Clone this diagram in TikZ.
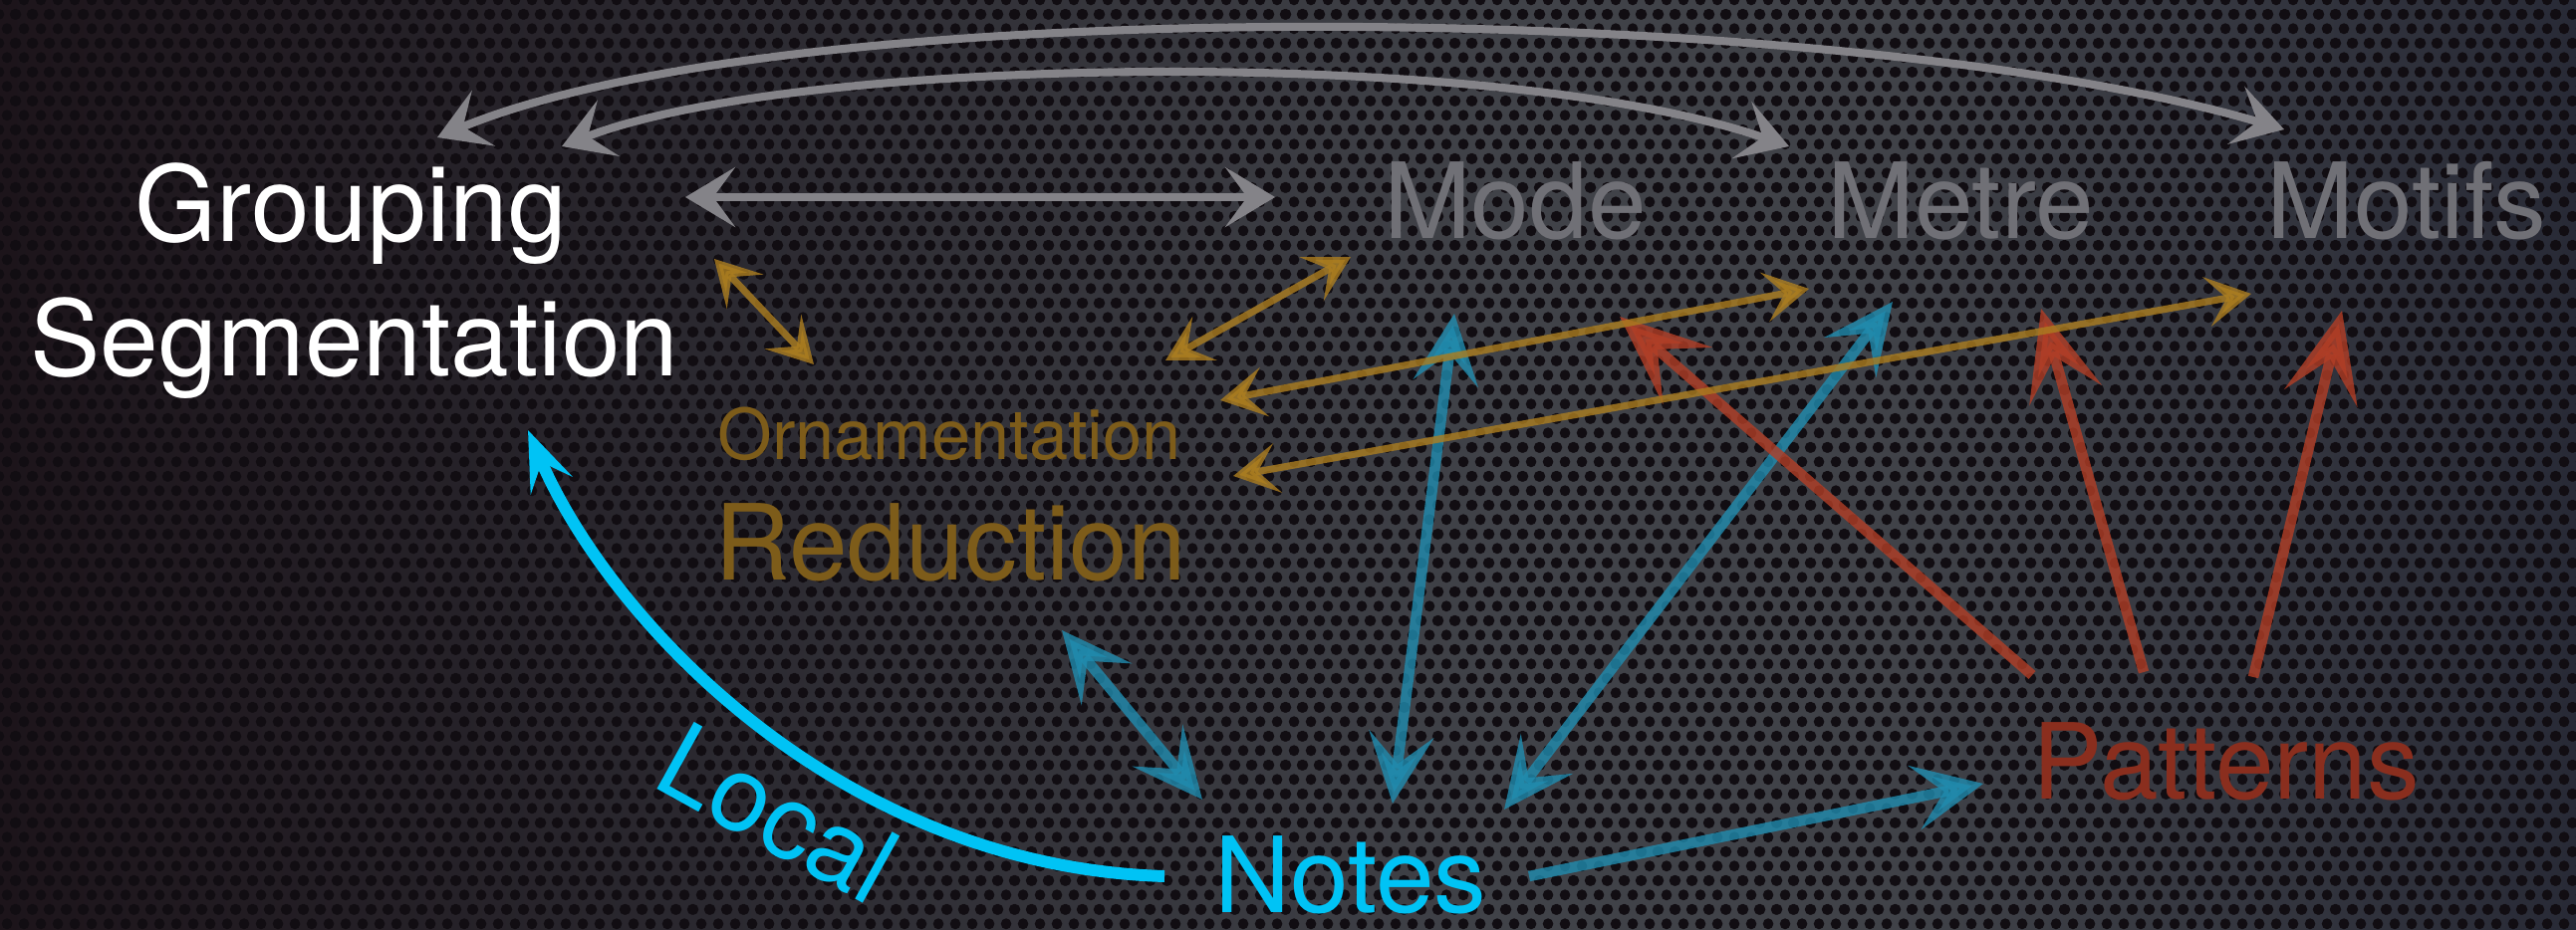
\documentclass[tikz,border=0pt]{standalone}
\usepackage{fontspec}
\setmainfont{TeX Gyre Heros}
\usepackage{tikz}
\usetikzlibrary{arrows.meta,patterns}
\usepackage{xcolor}
\definecolor{MeshA}{RGB}{28,20,26}
\definecolor{MeshB}{RGB}{42,40,47}
\definecolor{MeshC}{RGB}{64,66,72}
\definecolor{MeshD}{RGB}{40,42,54}
\definecolor{HoleCol}{RGB}{17,13,18}
\definecolor{ChalkGray}{RGB}{132,131,136}
\definecolor{TopGray}{RGB}{112,112,118}
\definecolor{OrnGold}{RGB}{125,92,26}
\definecolor{ArrGold}{RGB}{172,126,32}
\definecolor{ArrBlue}{RGB}{32,140,175}
\definecolor{NoteCyan}{RGB}{0,195,245}
\definecolor{ArrRed}{RGB}{178,62,38}
\definecolor{PatRed}{RGB}{138,46,30}
% perforated sheet: staggered rows of round holes
\pgfdeclarepatternformonly{holes}{\pgfpointorigin}{\pgfpoint{0.17cm}{0.294cm}}{\pgfpoint{0.17cm}{0.294cm}}{
  \pgfpathcircle{\pgfpoint{0.085cm}{0.0735cm}}{0.056cm}
  \pgfpathcircle{\pgfpoint{0cm}{0.2205cm}}{0.056cm}
  \pgfpathcircle{\pgfpoint{0.17cm}{0.2205cm}}{0.056cm}
  \pgfusepath{fill}}

\begin{document}
\begin{tikzpicture}[x=0.01cm,y=-0.01cm,
  lbl/.style={font=\fontsize{30}{36}\selectfont,anchor=base,inner sep=0pt},
  small/.style={font=\fontsize{20}{24}\selectfont,anchor=base,inner sep=0pt},
  garr/.style={ChalkGray,line width=2.3pt,>={Stealth[length=5mm,width=6mm,inset=2.2mm]},<->},
  yarr/.style={ArrGold,line width=2pt,opacity=.8,>={Stealth[length=4.5mm,width=5mm,inset=2mm]},<->},
  barr/.style={ArrBlue,line width=3pt,opacity=.8,>={Stealth[length=7mm,width=6.5mm,inset=3mm]},<->},
  rarr/.style={ArrRed,line width=3pt,opacity=.8,>={Stealth[length=9mm,width=7.5mm,inset=4mm]},->},
  carr/.style={NoteCyan,line width=3.4pt,>={Stealth[length=6mm,width=4.5mm,inset=2.5mm]},->},
]
\useasboundingbox (0,0) rectangle (2586,934);
% background
\fill[left color=MeshA,right color=MeshB] (0,0) rectangle (700,934);
\fill[left color=MeshB,right color=MeshC] (699,0) rectangle (1500,934);
\fill[MeshC] (1499,0) rectangle (1900,934);
\fill[left color=MeshC,right color=MeshD] (1899,0) rectangle (2586,934);
\fill[pattern=holes,pattern color=HoleCol] (0,0) rectangle (2586,934);

% labels
\node[lbl,white] (grp) at (352,243) {Grouping};
\node[lbl,white] (seg) at (356,378) {Segmentation};
\node[lbl,TopGray] (mode) at (1521,240) {Mode};
\node[lbl,TopGray] (metre) at (1968,240) {Metre};
\node[lbl,TopGray] (motifs) at (2416,240) {Motifs};
\node[small,OrnGold] (orn) at (953,462) {Ornamentation};
\node[lbl,OrnGold] (red) at (954,583) {Reduction};
\node[lbl,NoteCyan,text depth=0pt] (notes) at (1356,916) {Notes};
\node[lbl,PatRed] (pat) at (2235,802) {Patterns};
\node[lbl,NoteCyan,anchor=base west,rotate=-29] (local) at (652,788) {Local};

% arrow ends
\coordinate (grp-a) at (439,138);
\coordinate (grp-b) at (564,147);
\coordinate (grp-c) at (688,198);
\coordinate (seg-r) at (717,260);
\coordinate (seg-l) at (530,432);
\coordinate (mot-a) at (2293,130);
\coordinate (mode-l) at (1280,198);
\coordinate (mode-b) at (1356,258);
\coordinate (mode-d) at (1460,315);
\coordinate (met-a) at (1796,147);
\coordinate (met-b) at (1816,290);
\coordinate (met-d) at (1900,303);
\coordinate (met-r) at (1626,318);
\coordinate (mot-b) at (2260,295);
\coordinate (mot-r1) at (2049,310);
\coordinate (mot-r2) at (2351,312);
\coordinate (orn-l) at (817,366);
\coordinate (orn-r) at (1170,362);
\coordinate (red-a) at (1225,402);
\coordinate (red-b) at (1238,478);
\coordinate (red-d) at (1066,633);
\coordinate (not-a) at (1207,803);
\coordinate (not-b) at (1398,807);
\coordinate (not-c) at (1510,813);
\coordinate (not-r) at (1535,880);
\coordinate (not-l) at (1169,880);
\coordinate (pat-l) at (1991,787);
\coordinate (pat-a) at (2040,678);
\coordinate (pat-b) at (2152,675);
\coordinate (pat-c) at (2262,680);

% grey arcs
\draw[garr] (grp-a) .. controls (800,-12) and (1850,0) .. (mot-a);
\draw[garr] (grp-b) .. controls (800,55) and (1500,45) .. (met-a);
\draw[garr] (grp-c) -- (mode-l);

% notes
\draw[barr] (red-d) -- (not-a);
\draw[barr] (mode-d) -- (not-b);
\draw[barr] (met-d) -- (not-c);
\draw[barr,->] (not-r) -- (pat-l);

% patterns
\draw[rarr] (pat-a) -- (met-r);
\draw[rarr] (pat-b) -- (mot-r1);
\draw[rarr] (pat-c) -- (mot-r2);

% reduction
\draw[yarr] (seg-r) -- (orn-l);
\draw[yarr] (orn-r) -- (mode-b);
\draw[yarr] (red-a) -- (met-b);
\draw[yarr] (red-b) -- (mot-b);

\draw[carr] (not-l) .. controls (840,870) and (610,620) .. (seg-l);
\end{tikzpicture}
\end{document}
